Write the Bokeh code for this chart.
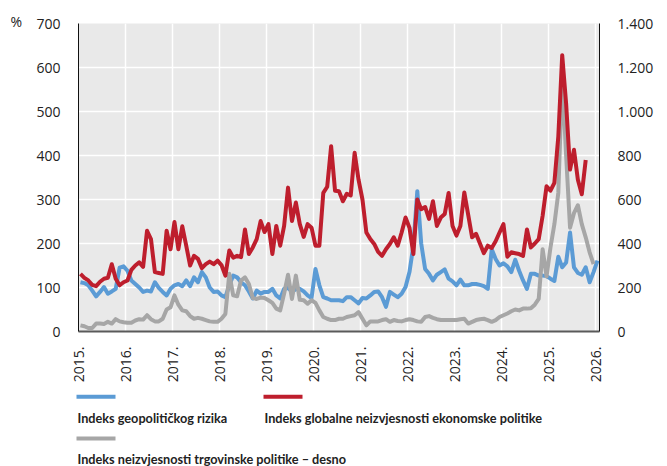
import math
from bokeh.plotting import figure
from bokeh.layouts import column
from bokeh.models import Range1d, LinearAxis, FixedTicker, Title
from bokeh.core.properties import value
from bokeh.embed import file_html
from bokeh.resources import INLINE

# ---------------- data (monthly, from Jan 2015) ----------------
start_year = 2015
gpr = [112, 110, 105, 93, 80, 90, 101, 86, 91, 97, 145, 148,
       138, 116, 108, 100, 90, 93, 91, 112, 99, 90, 82, 97,
       105, 108, 103, 116, 103, 123, 112, 135, 123, 100, 90, 91,
       82, 78, 105, 127, 123, 112, 105, 91, 75, 93, 86, 90,
       90, 97, 82, 75, 97, 99, 91, 96, 97, 91, 82, 76,
       142, 105, 78, 75, 71, 71, 71, 69, 78, 78, 71, 64,
       76, 75, 82, 90, 91, 78, 56, 90, 84, 78, 86, 101,
       135, 195, 319, 200, 142, 131, 116, 129, 135, 141, 120, 114,
       105, 118, 105, 105, 108, 108, 106, 103, 97, 187, 165, 150,
       155, 148, 135, 163, 138, 116, 97, 131, 131, 127, 127, 126,
       120, 115, 170, 146, 157, 225, 146, 133, 129, 146, 112, 135, 161]
epu = [131, 122, 116, 106, 103, 113, 120, 122, 153, 120, 105, 112,
       116, 140, 150, 157, 147, 229, 210, 135, 133, 131, 229, 187,
       249, 187, 239, 195, 150, 172, 165, 144, 153, 159, 153, 161,
       151, 127, 184, 168, 172, 169, 232, 176, 191, 210, 251, 226,
       244, 176, 240, 195, 240, 327, 251, 293, 244, 215, 244, 236,
       195, 195, 315, 329, 421, 320, 319, 296, 313, 309, 406, 345,
       300, 225, 210, 199, 181, 172, 187, 199, 214, 195, 225, 259,
       236, 176, 300, 278, 283, 256, 296, 240, 259, 267, 315, 240,
       218, 240, 316, 265, 214, 222, 200, 178, 195, 190, 205, 225,
       244, 170, 180, 178, 176, 172, 232, 191, 200, 210, 263, 330,
       320, 338, 443, 628, 518, 368, 413, 345, 312, 390]
tpu = [28, 24, 16, 16, 36, 36, 34, 44, 36, 56, 46, 42,
       40, 40, 50, 56, 54, 74, 56, 46, 46, 58, 100, 110,
       164, 122, 96, 92, 70, 58, 62, 58, 52, 46, 44, 44,
       58, 80, 262, 164, 160, 232, 246, 216, 152, 148, 154, 152,
       142, 130, 104, 96, 172, 258, 148, 254, 144, 142, 126, 142,
       130, 96, 66, 58, 52, 52, 58, 58, 66, 70, 74, 88,
       58, 28, 46, 46, 46, 52, 56, 44, 52, 48, 46, 52,
       56, 52, 46, 44, 66, 70, 62, 56, 52, 52, 52, 52,
       52, 56, 58, 36, 44, 52, 56, 58, 52, 44, 52, 66,
       74, 82, 92, 100, 96, 104, 104, 106, 122, 148, 374, 250,
       382, 488, 630, 1158, 800, 472, 538, 574, 488, 428, 360, 306]

tick_years = list(range(2015, 2027))
tick_year_labels = [f"{y}." for y in tick_years]
left_ticks = [0, 100, 200, 300, 400, 500, 600, 700]
right_ticks = [0, 200, 400, 600, 800, 1000, 1200, 1400]
right_tick_labels = ["0", "200", "400", "600", "800", "1.000", "1.200", "1.400"]
legend_labels = ["Indeks geopolitičkog rizika",
                 "Indeks globalne neizvjesnosti ekonomske politike",
                 "Indeks neizvjesnosti trgovinske politike – desno"]

def month_x(n):
    # monthly values plotted at mid-month
    return [start_year + (i + 0.5) / 12 for i in range(n)]

BLUE = "#5b9bd5"
RED = "#be1e2d"
GRAY = "#a6a6a6"
TXT = "#222222"
TICK_FONT = "Open Sans"
LEG_FONT = "Lato"
W = 667

# ---------------- thin rule at the top ----------------
top = figure(width=W, height=6, output_backend="svg", toolbar_location=None, title=None,
             x_axis_location=None, y_axis_location=None, frame_align=False,
             min_border_left=10, min_border_right=7, min_border_top=4, min_border_bottom=0,
             background_fill_color=TXT, border_fill_color="white", outline_line_color=None)
top.grid.visible = False

# ---------------- main chart ----------------
p = figure(width=W, height=379, title=None,
           x_range=Range1d(2015, 2026.085), y_range=Range1d(0, 700),
           output_backend="svg", toolbar_location=None, frame_align=False,
           min_border_left=78, min_border_right=68,
           min_border_top=17, min_border_bottom=52,
           background_fill_color="#e9e9e9", border_fill_color="white",
           outline_line_color=None)
p.extra_y_ranges = {"right": Range1d(0, 1400)}

xa = p.xaxis[0]
xa.ticker = FixedTicker(ticks=tick_years)
xa.major_label_overrides = {y: l for y, l in zip(tick_years, tick_year_labels)}
xa.major_label_orientation = math.pi / 2
xa.major_label_standoff = 9
xa.axis_line_color = "#5a5a5a"
xa.axis_line_width = 2

ya = p.yaxis[0]
ya.ticker = FixedTicker(ticks=left_ticks)
ya.major_label_overrides = {v: str(v) for v in left_ticks}
ya.major_label_standoff = 12
ya.axis_line_color = "#111111"
ya.axis_line_width = 1

ra = LinearAxis(y_range_name="right", ticker=FixedTicker(ticks=right_ticks))
ra.major_label_overrides = {v: l for v, l in zip(right_ticks, right_tick_labels)}
ra.major_label_standoff = 12
ra.axis_line_color = "#111111"
ra.axis_line_width = 1
p.add_layout(ra, "right")

for ax in (xa, ya, ra):
    ax.major_tick_line_color = None
    ax.minor_tick_line_color = None
    ax.major_label_text_font = TICK_FONT
    ax.major_label_text_font_size = "14px"
    ax.major_label_text_color = TXT

p.xgrid.ticker = FixedTicker(ticks=tick_years)
p.ygrid.ticker = FixedTicker(ticks=left_ticks)
for g in (p.xgrid[0], p.ygrid[0]):
    g.grid_line_color = "white"
    g.grid_line_width = 1.5

p.line(month_x(len(gpr)), gpr, line_color=BLUE, line_width=4, line_join="round")
p.line(month_x(len(tpu)), tpu, line_color=GRAY, line_width=4, line_join="round",
       y_range_name="right")
p.line(month_x(len(epu)), epu, line_color=RED, line_width=4, line_join="round")

# unit label "%" at the top-left
p.add_layout(Title(text="%", align="left", offset=-68, standoff=-14,
                   text_font=TICK_FONT, text_font_size="14px",
                   text_font_style="normal", text_color=TXT), "above")

# ---------------- legend (below) ----------------
LH = 81
leg = figure(width=W, height=LH, x_range=Range1d(0, W), y_range=Range1d(LH, 0),
             output_backend="svg", toolbar_location=None, frame_align=False, title=None,
             x_axis_location=None, y_axis_location=None,
             min_border_left=0, min_border_right=0, min_border_top=0, min_border_bottom=0,
             outline_line_color=None, border_fill_color="white",
             background_fill_color="white")
leg.grid.visible = False
leg_x = [76, 263, 76]
leg_sw_y = [9.2, 9.2, 51.0]
leg_txt_y = [32.4, 32.4, 73.6]
leg_cols = [BLUE, RED, GRAY]
leg.quad(left=leg_x, right=[x + 39 for x in leg_x], top=leg_sw_y,
         bottom=[y + 4 for y in leg_sw_y], fill_color=leg_cols, line_color=None)
leg.text(x=[x + 1 for x in leg_x], y=leg_txt_y, text=legend_labels,
         text_font=value(LEG_FONT), text_font_size="12.7px", text_font_style="bold",
         text_color=TXT, text_baseline="alphabetic")

layout = column(top, p, leg, spacing=0)
open("out.html", "w").write(file_html(layout, INLINE))
